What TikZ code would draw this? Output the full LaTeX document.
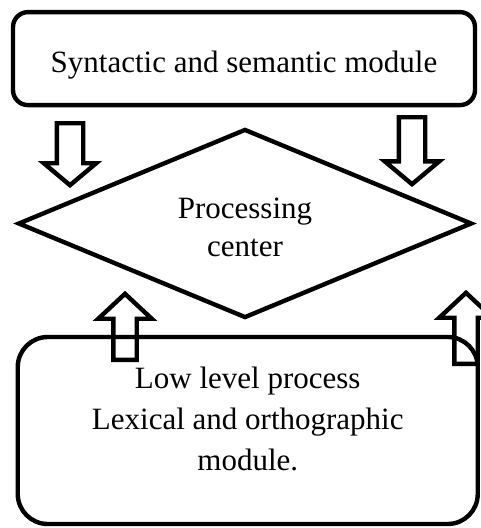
\documentclass[tikz,border=0pt]{standalone}
\usepackage{fontspec}
\setmainfont{Liberation Serif}
\usetikzlibrary{shapes, arrows, positioning}

\tikzset{
    module/.style={draw, rounded corners=15pt, line width=4.4pt, inner sep=0pt, align=center},
    hub/.style={draw, diamond, aspect=2.4, line width=4.4pt, inner sep=0pt, align=center},
    blockarrow/.style={draw, single arrow, line width=4.4pt, inner xsep=0pt, text height=0pt, text depth=0pt, single arrow head indent=0pt}
}

\begin{document}
\begin{tikzpicture}[x=1pt, y=-1pt, font=\fontsize{31}{38}\selectfont]
        \useasboundingbox (0,0) rectangle (480,528);
        \node[module, minimum width=462pt, minimum height=93pt, text height=35pt] (synmod) at (244,58.6) {Syntactic and semantic module};
        \node[hub, minimum width=454pt, minimum height=189pt, text height=65pt, text depth=0pt] (proc) at (245,223.5) {Processing\\center};
        \node[module, rounded corners=30pt, minimum width=460pt, minimum height=187pt, text depth=24pt, font=\fontsize{31}{41}\selectfont] (lowmod) at (247.75,430.5) {Low level process\\Lexical and orthographic\\module.};

        % arrows down from the syntactic module
        \node[blockarrow, rotate=-90, anchor=tail, inner ysep=11pt, minimum width=48pt, single arrow head extend=13pt, single arrow tip angle=100, minimum height=62pt] (downleft) at (70,121) {};
        \node[blockarrow, rotate=-90, anchor=tail, inner ysep=11pt, minimum width=50pt, single arrow head extend=14pt, single arrow tip angle=100, minimum height=67pt] (downright) at (412,115) {};

        % arrows up from the low level module
        \node[blockarrow, rotate=90, anchor=tail, inner ysep=9.5pt, minimum width=49pt, single arrow head extend=15pt, single arrow tip angle=94, minimum height=66pt] (upleft) at (125,362) {};
        \node[blockarrow, rotate=90, anchor=tail, inner ysep=9.5pt, minimum width=49pt, single arrow head extend=15pt, single arrow tip angle=94, minimum height=71pt] (upright) at (466,366) {};
    \end{tikzpicture}
\end{document}
